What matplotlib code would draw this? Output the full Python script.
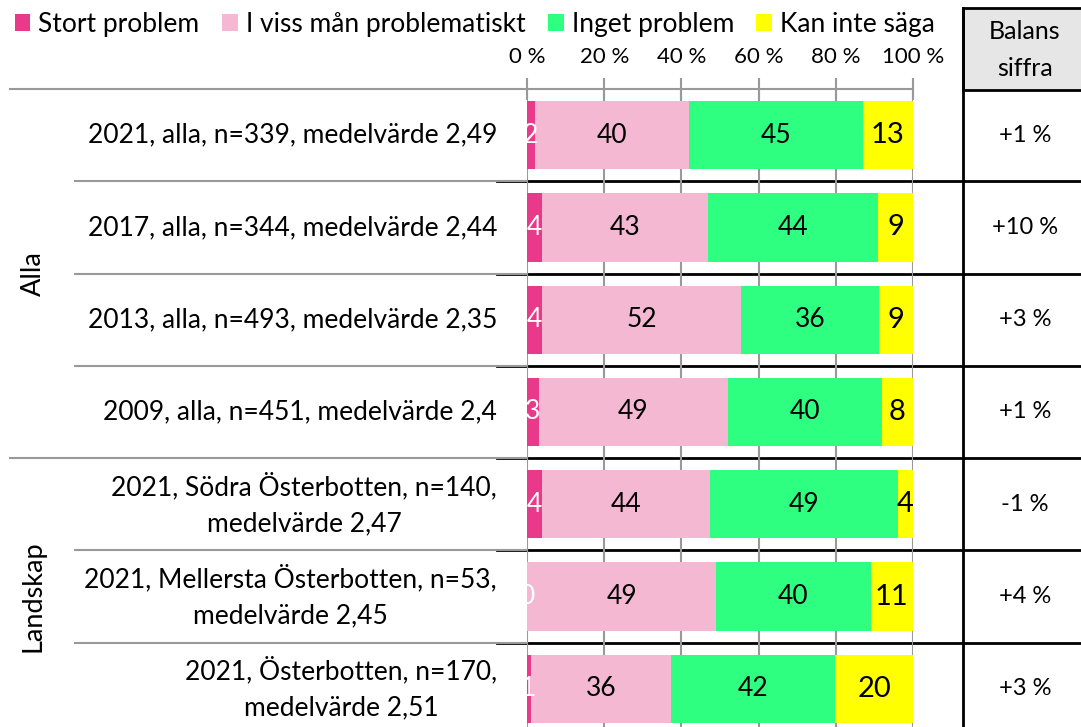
import matplotlib
matplotlib.use("Agg")
import matplotlib.pyplot as plt
from matplotlib.lines import Line2D
from matplotlib.patches import Rectangle
from matplotlib.transforms import blended_transform_factory
import numpy as np

plt.rcParams['font.family'] = ['Lato', 'DejaVu Sans']

rows = [
    "2021, alla, n=339, medelvärde 2,49",
    "2017, alla, n=344, medelvärde 2,44",
    "2013, alla, n=493, medelvärde 2,35",
    "2009, alla, n=451, medelvärde 2,4",
    "2021, Södra Österbotten, n=140,\nmedelvärde 2,47",
    "2021, Mellersta Österbotten, n=53,\nmedelvärde 2,45",
    "2021, Österbotten, n=170,\nmedelvärde 2,51",
]
categories = ["Stort problem", "I viss mån problematiskt", "Inget problem", "Kan inte säga"]
stort = [2, 4, 4, 3, 4, 0, 1]
viss = [40, 43, 52, 49, 44, 49, 36]
inget = [45, 44, 36, 40, 49, 40, 42]
kan_inte = [13, 9, 9, 8, 4, 11, 20]
balans = ["+1 %", "+10 %", "+3 %", "+1 %", "-1 %", "+4 %", "+3 %"]
groups = [("Alla", 0, 3), ("Landskap", 4, 6)]
xticks = [0, 20, 40, 60, 80, 100]

colors = ["#E8398A", "#F5B8D3", "#2EFF80", "#FFFF00"]
label_colors = ["white", "black", "black", "black"]

W, H = 1081, 727
def fx(px):
    return px / W
def fy(py):
    return 1 - py / H

fig = plt.figure(figsize=(W / 100, H / 100), dpi=100)

# bar area, 0 % .. 100 %
ax = fig.add_axes([fx(527), fy(735), fx(913) - fx(527), (735 - 89) / H])
ax.set_xlim(0, 100)
ax.set_ylim(len(rows) - 0.5, -0.5)

data = np.array([stort, viss, inget, kan_inte], dtype=float)
shares = data / data.sum(axis=0) * 100
y = np.arange(len(rows))
left = np.zeros(len(rows))
for i, cat in enumerate(categories):
    ax.barh(y, shares[i], left=left, height=0.74, color=colors[i], label=cat, zorder=2)
    for j in range(len(rows)):
        ax.text(left[j] + shares[i][j] / 2, y[j], str(int(data[i][j])),
                ha='center', va='center', color=label_colors[i],
                fontsize=21 if i == 3 else 19, zorder=3)
    left += shares[i]

ax.xaxis.tick_top()
ax.set_xticks(xticks)
ax.set_xticklabels([f"{t} %" for t in xticks], fontsize=16)
ax.tick_params(axis='x', direction='inout', length=16, color='#999999', width=1.5, pad=8)
ax.set_yticks([])
ax.grid(axis='x', color='#999999', linewidth=1.5, zorder=0)
for s in ax.spines.values():
    s.set_visible(False)

# row labels and separators
trans = blended_transform_factory(fig.transFigure, ax.transData)
for j, lab in enumerate(rows):
    ax.text(fx(497), y[j], lab, transform=trans, ha='right', va='center',
            multialignment='center', fontsize=19, linespacing=1.55)
    ax.text(fx(1025), y[j], balans[j], transform=trans, ha='center', va='center', fontsize=17)

for b in range(1, len(rows)):
    yb = b - 0.5
    start = 10 if b == groups[1][1] else 75
    ax.add_line(Line2D([fx(start), fx(527)], [yb, yb], transform=trans, color='#999999',
                       lw=1.5, clip_on=False))
    ax.add_line(Line2D([fx(497), 1], [yb, yb], transform=trans, color='black',
                       lw=2, clip_on=False, zorder=1))

# top axis line
ax.add_line(Line2D([fx(10), fx(913)], [-0.5, -0.5], transform=trans, color='#999999',
                   lw=1.5, clip_on=False))

for name, a, b in groups:
    ax.text(fx(33), (a + b) / 2, name, transform=trans, rotation=90,
            ha='center', va='center', fontsize=19.5)

# balance column
fig.add_artist(Rectangle((fx(963), fy(90)), 1 - fx(963) + 0.01, fy(8) - fy(90),
                         transform=fig.transFigure, facecolor='#E6E6E6',
                         edgecolor='black', lw=2))
fig.add_artist(Line2D([fx(963), fx(963)], [0, fy(8)], transform=fig.transFigure,
                      color='black', lw=2))
fig.text(fx(1025), fy(50), "Balans\nsiffra", ha='center', va='center', fontsize=18,
         linespacing=1.75)

fig.legend(loc='upper left', bbox_to_anchor=(fx(4), fy(1)), ncol=4, frameon=False,
           fontsize=19, handlelength=0.6, handleheight=0.6, handletextpad=0.3,
           columnspacing=0.85, borderaxespad=0)

fig.savefig("out.png", dpi=100)
